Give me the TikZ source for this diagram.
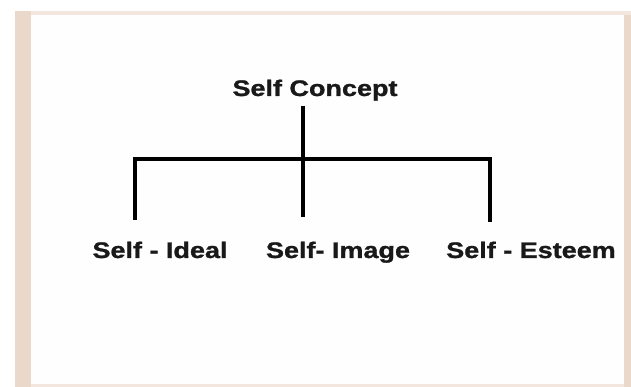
\documentclass[tikz,border=0pt]{standalone}
\usepackage{fontspec}
\setmainfont{Liberation Sans}[FakeStretch=1.2,BoldFeatures={FakeBold=1.2}]
\definecolor{peach}{HTML}{EAD8CA}
\definecolor{peachlight}{HTML}{F3E6DE}
\definecolor{panel}{HTML}{FEFEFE}
\begin{document}
\begin{tikzpicture}[x=1pt,y=-1pt,
  lbl/.style={font=\fontsize{22.5}{26}\selectfont\bfseries, text=black!90, inner sep=0pt, anchor=base},
  conn/.style={line width=3.6pt, line cap=butt, line join=miter}]
\useasboundingbox (0,0) rectangle (631,387);
\fill[white] (0,0) rectangle (631,387);
\fill[peachlight] (15,11) rectangle (631,387);
\fill[peach] (15,11) rectangle (31,387);
\fill[peach] (624,15) rectangle (631,387);
\fill[panel] (31,15) rectangle (624,384);
% nodes
\node[lbl] (top) at (315,96) {Self Concept};
\node[lbl] (ideal) at (160,258) {Self - Ideal};
\node[lbl] (image) at (338,258) {Self- Image};
\node[lbl] (esteem) at (531,258) {Self - Esteem};
% junction coordinates
\coordinate (j) at (303,159);
\coordinate (topend) at (303,106);
\coordinate (lj) at (135,159);
\coordinate (rj) at (490,159);
\coordinate (lend) at (135,220);
\coordinate (mend) at (303,217);
\coordinate (rend) at (490,222);
\draw[conn] (topend) -- (j);
\draw[conn] (lend) -- (lj) -- (rj) -- (rend);
\draw[conn] (j) -- (mend);
\end{tikzpicture}
\end{document}
